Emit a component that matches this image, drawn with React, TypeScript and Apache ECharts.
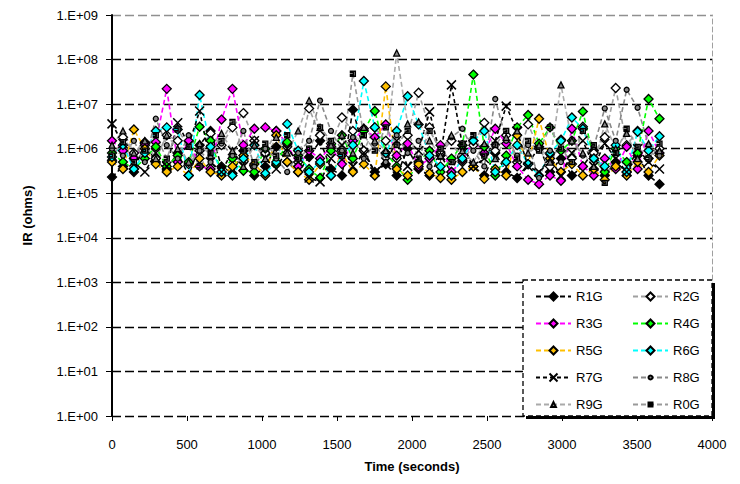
import React, { useEffect, useRef } from "react";
import * as echarts from "echarts";

const times = [0, 73, 146, 219, 292, 365, 438, 511, 584, 657, 730, 803, 876, 949, 1022, 1095, 1168, 1241, 1314, 1387, 1460, 1533, 1606, 1679, 1752, 1825, 1898, 1971, 2044, 2117, 2190, 2263, 2336, 2409, 2482, 2555, 2628, 2701, 2774, 2847, 2920, 2993, 3066, 3139, 3212, 3285, 3358, 3431, 3504, 3577, 3650];

const seriesNames = ["R1G", "R2G", "R3G", "R4G", "R5G", "R6G", "R7G", "R8G", "R9G", "R0G"];

const r1g = [2.3e5, 4e5, 3e5, 1.4e6, 5e5, 3.5e5, 8e5, 2.5e5, 1.2e6, 2.5e6, 4e5, 2.8e5, 9e5, 2.5e5, 4e5, 1.1e6, 5e5, 3e5, 6.5e5, 1.5e6, 3.5e5, 2.5e5, 7.5e6, 9e5, 3e5, 4.5e5, 2.5e5, 1e6, 3.5e5, 2.5e5, 7e5, 3e5, 1.2e6, 4e5, 2.5e5, 8e5, 3e5, 2.2e5, 4.5e5, 1.1e6, 3e5, 6e5, 2.5e5, 4e5, 9e5, 2.5e5, 5e5, 3e5, 7e5, 2.5e5, 1.6e5];
const r2g = [5.5e5, 1.8e6, 8e5, 1.2e6, 6e5, 2e6, 1.5e6, 4.5e5, 9e5, 2.2e6, 1.2e6, 3e6, 6.3e6, 1.5e6, 8e5, 2.5e6, 1.1e6, 5e5, 8e6, 2e6, 1.3e6, 5e6, 2.5e6, 9e5, 3e6, 1.5e6, 6e5, 2e6, 1.8e7, 3e6, 8e5, 1.5e6, 5e5, 1.2e6, 3.8e6, 9e5, 2e6, 5e5, 3.5e6, 1e6, 4e5, 1.6e6, 6e5, 3.1e6, 8e5, 1.8e6, 2.3e7, 1.2e6, 2.5e6, 6e5, 1e6];
const r3g = [1.5e6, 9e5, 6e5, 1.3e6, 1.4e6, 2.2e7, 5e5, 1.5e6, 4e5, 3.5e5, 4.5e6, 2.2e7, 1.2e6, 2.8e6, 3e6, 2.5e6, 1.3e6, 4e5, 9e5, 6e5, 1.1e6, 4.5e5, 1.5e6, 2.8e6, 1.8e6, 3.5e6, 7e5, 1.3e6, 4e5, 6e5, 1.2e6, 3e5, 5.5e5, 1.5e6, 8e5, 2.8e6, 1.3e6, 4e5, 2e5, 1.6e5, 2.5e5, 1.9e5, 2.8e6, 4e5, 2.5e5, 6e5, 3.5e5, 1.1e6, 3.5e5, 2.5e6, 8e5];
const r4g = [8e5, 5e5, 3.5e5, 6e5, 1.1e6, 4e5, 7e5, 5e5, 3.1e6, 1.5e6, 3e5, 6e5, 3.2e5, 3e5, 1e6, 4.5e5, 1.4e6, 7e5, 3.5e5, 2.2e5, 9e5, 2e6, 6e5, 2.5e6, 7e6, 8e5, 4e5, 2e5, 5e5, 9e5, 3e5, 6e5, 1.2e6, 4.6e7, 1.1e6, 2.5e5, 7e5, 3e6, 5.7e6, 1.3e6, 3e6, 9e5, 1.5e6, 6.8e6, 6e5, 3e5, 1e6, 5e5, 8e5, 1.3e7, 4.7e6];
const r5g = [5e5, 3.5e5, 2.7e6, 1e6, 4.5e5, 3e5, 4e5, 2.5e5, 6e5, 3e5, 2.5e5, 4e5, 7e5, 4.5e5, 2.5e5, 2e6, 5e5, 3e5, 2e5, 4.5e5, 2.5e5, 8e5, 3e5, 4.5e5, 2.5e5, 2.5e7, 3.5e5, 2.5e5, 4.5e5, 2.8e5, 2.2e5, 2e5, 3e5, 4e5, 2.1e5, 3.5e5, 2.5e5, 2e6, 4.5e5, 4.7e6, 6e5, 3e5, 4.5e5, 2.5e5, 3.5e5, 2e5, 4e5, 2.5e5, 5e5, 3e5, 7e5];
const r6g = [6.5e5, 1.2e6, 3.5e5, 8e5, 2.5e6, 3e6, 2.7e6, 2.5e5, 1.6e7, 1.1e6, 3e5, 2.5e5, 6e5, 1.2e6, 2.8e5, 5e5, 3.6e6, 9e5, 3e5, 5e5, 2.5e5, 7e5, 1.2e6, 3.3e7, 3e6, 8e5, 2.5e6, 1.5e7, 3.5e6, 7e5, 4e5, 2.5e5, 6e5, 1.5e6, 2.5e6, 3e5, 5e5, 1.2e6, 4.5e5, 2.5e5, 8e5, 1.5e6, 5e6, 2.8e6, 6e5, 4e5, 1.2e6, 3e5, 2.4e6, 9e5, 1.9e6];
const r7g = [3.6e6, 1.3e6, 5e5, 3e5, 8e5, 4e5, 3.8e6, 1.2e6, 7e6, 5e5, 3e5, 9e5, 4e5, 1.5e6, 6e5, 3.5e5, 1e6, 5e5, 2.2e5, 1.8e5, 6e5, 1.2e6, 4e5, 8e5, 3e5, 5e5, 1.5e6, 4e5, 9e5, 6.7e6, 7e5, 2.7e7, 1.2e6, 4e5, 6e5, 1.5e6, 9e6, 2.5e6, 4e5, 3e5, 6e5, 2.5e5, 8e5, 1.5e6, 4e5, 1.3e6, 6e5, 3e5, 1e6, 5e5, 3.5e5];
const r8g = [1e6, 7e5, 1.5e6, 5e5, 4.7e6, 1.2e6, 6e5, 2e6, 9e5, 5e5, 1.3e6, 7e5, 2.5e6, 4e5, 1e6, 6e5, 3e5, 8e5, 1.5e6, 1.2e7, 2.5e6, 9e5, 1.8e6, 6e5, 1.3e6, 5e5, 2e6, 8e5, 1.5e6, 4e5, 1e6, 1.8e6, 2.8e6, 9e5, 4e5, 1.3e7, 1.5e6, 7e5, 1.2e6, 2.2e5, 9e5, 5e5, 1.6e6, 7e5, 1.1e6, 8e6, 1.5e6, 2.1e7, 8.3e6, 1.2e6, 7e5];
const r9g = [1.2e6, 2.5e6, 8e5, 1.5e6, 6e5, 2e6, 1e6, 5e5, 1.3e6, 7e5, 2.2e6, 9e5, 4e5, 1.2e6, 6e5, 1.8e6, 8e5, 2.5e6, 1.2e7, 3e6, 1.2e6, 2e6, 8e5, 3e6, 1.5e6, 9e5, 1.4e8, 3.6e6, 4e6, 1.5e6, 7e5, 2e6, 9e5, 5e5, 1.3e6, 6e5, 1.8e6, 2.5e6, 8e5, 1.2e6, 5e5, 2.7e7, 1.5e6, 8e5, 4e5, 3.6e6, 1e6, 2.2e6, 6e5, 1.3e6, 9e5];
const r0g = [7e5, 1.4e6, 5e5, 9e5, 2e6, 6e5, 2.7e6, 1.1e6, 4e5, 8e5, 1.5e6, 4e6, 9e5, 5e5, 1.3e6, 7e5, 2e6, 6e5, 1e6, 3e6, 1.5e6, 7e5, 4.8e7, 2e6, 9e5, 3e6, 1.2e6, 2.5e6, 6e5, 2.5e6, 1e6, 5e5, 1.3e6, 2e6, 7e5, 1.2e6, 2.5e6, 6e5, 1.5e6, 9e5, 3e6, 1e6, 5e5, 2.5e6, 1.2e6, 1.7e5, 8e5, 2.8e6, 1.1e6, 6e5, 1.3e6];

const seriesValues = [r1g, r2g, r3g, r4g, r5g, r6g, r7g, r8g, r9g, r0g];

const xTicks = { min: 0, max: 4000, interval: 500 };
const yRange = { min: 1, max: 1e9 };

const FONT = "'Liberation Sans', Arial, sans-serif";

const X_PATH = "path://M0,0L10,10M10,0L0,10";
const R0_PATH = "path://M0,0L10,0L10,10L0,10L0,7L6,7L6,3L0,3Z";

const styles = [
  { line: "#000000", fill: "#000000", symbol: "diamond", size: 9, dash: [5, 3], legendH: 10 },
  { line: "#a0a0a0", fill: "#ffffff", symbol: "diamond", size: 9, dash: [5, 3], legendH: 10 },
  { line: "#ff00ff", fill: "#ff00ff", symbol: "diamond", size: 9, dash: [5, 3], legendH: 10 },
  { line: "#00ff00", fill: "#00ff00", symbol: "diamond", size: 9, dash: [5, 3], legendH: 10 },
  { line: "#ffc000", fill: "#ffc000", symbol: "diamond", size: 9, dash: [5, 3], legendH: 10 },
  { line: "#00ffff", fill: "#00ffff", symbol: "diamond", size: 9, dash: [5, 3], legendH: 10 },
  { line: "#000000", fill: "#000000", symbol: X_PATH, size: 9, dash: [4, 3], legendH: 10 },
  { line: "#888888", fill: "#888888", symbol: "circle", size: 5, dash: [5, 3], legendH: 5 },
  { line: "#aaaaaa", fill: "#888888", symbol: "triangle", size: 6, dash: [5, 3], legendH: 6 },
  { line: "#999999", fill: "#888888", symbol: R0_PATH, size: 5, dash: [5, 3], legendH: 5 },
];

// legend layout: column left edges, row centres
const legendCols = [535, 632];
const legendRows = [297, 324, 351, 378, 405];

function fmtY(v: number) {
  const e = Math.round(Math.log10(v));
  return "1.E+" + (e < 10 ? "0" : "") + e;
}

export default function App() {
  const ref = useRef<HTMLDivElement>(null);
  useEffect(() => {
    if (!ref.current) return;
    const chart = echarts.init(ref.current, undefined, { renderer: "svg" });
    const series = seriesNames.map((name, i) => {
      const s = styles[i];
      return {
        name,
        type: "line",
        yAxisIndex: 0,
        data: times.map((t, k) => [t, seriesValues[i][k]]),
        symbol: s.symbol,
        symbolSize: s.size,
        showAllSymbol: true,
        lineStyle: { color: s.line, width: 1.6, type: s.dash },
        itemStyle: {
          color: s.fill,
          borderColor: "#000",
          borderWidth: i === 6 ? 1.5 : 1.3,
        },
        emphasis: { disabled: true },
      };
    });
    const legends = seriesNames.map((name, i) => {
      const col = i % 2;
      const row = Math.floor(i / 2);
      return {
        orient: "vertical",
        left: legendCols[col],
        top: legendRows[row] - 7,
        itemWidth: 35,
        itemHeight: styles[i].legendH,
        padding: 0,
        textStyle: { fontFamily: FONT, fontSize: 13, color: "#000" },
        selectedMode: false,
        data: [name],
      };
    });
    const splitColors = ["#000", "#000", "#000", "#000", "#000", "#000", "#000", "#000", "#000", "#909090"];
    chart.setOption({
      animation: false,
      backgroundColor: "#fff",
      grid: { left: 112, right: 28, top: 15, bottom: 68 },
      xAxis: {
        type: "value",
        min: xTicks.min,
        max: xTicks.max,
        interval: xTicks.interval,
        name: "Time (seconds)",
        nameLocation: "middle",
        nameGap: 44,
        nameTextStyle: { fontFamily: FONT, fontSize: 13, fontWeight: "bold", color: "#000" },
        axisLine: { show: false },
        axisTick: { show: true, inside: false, length: 5, lineStyle: { color: "#000", width: 1 } },
        axisLabel: { fontFamily: FONT, fontSize: 13, color: "#000", margin: 22, formatter: (v: number) => String(v) },
        splitLine: { show: false },
      },
      yAxis: [
        {
          type: "log",
          logBase: 10,
          min: yRange.min,
          max: yRange.max,
          splitNumber: 9,
          name: "IR (ohms)",
          nameLocation: "middle",
          nameGap: 78,
          nameTextStyle: { fontFamily: FONT, fontSize: 13, fontWeight: "bold", color: "#000" },
          axisLine: { show: true, lineStyle: { color: "#000", width: 2 } },
          axisTick: { show: true, length: 6, lineStyle: { color: "#000", width: 1 } },
          axisLabel: { fontFamily: FONT, fontSize: 13, color: "#000", margin: 14, formatter: fmtY },
          splitLine: { show: true, lineStyle: { color: splitColors, width: 1.3, type: [9, 4] } },
          minorTick: { show: false },
        },
        {
          type: "log",
          logBase: 10,
          min: yRange.min,
          max: yRange.max,
          position: "right",
          axisLine: { show: true, lineStyle: { color: "#a0a0a0", width: 1, type: [5, 3] } },
          axisTick: { show: false },
          axisLabel: { show: false },
          splitLine: { show: false },
        },
      ],
      legend: legends,
      graphic: [
        {
          type: "rect",
          z: 3,
          shape: { x: 526, y: 283, width: 189, height: 136 },
          style: { fill: "#000" },
        },
        {
          type: "rect",
          z: 3,
          shape: { x: 523, y: 280, width: 189, height: 136 },
          style: { fill: "#fff", stroke: "#000", lineWidth: 1.3, lineDash: [5, 3] },
        },
      ],
      series,
    });
    return () => chart.dispose();
  }, []);
  return (
    <div
      ref={ref}
      style={{ position: "fixed", left: 0, top: 0, width: 740, height: 484, background: "#fff" }}
    />
  );
}
